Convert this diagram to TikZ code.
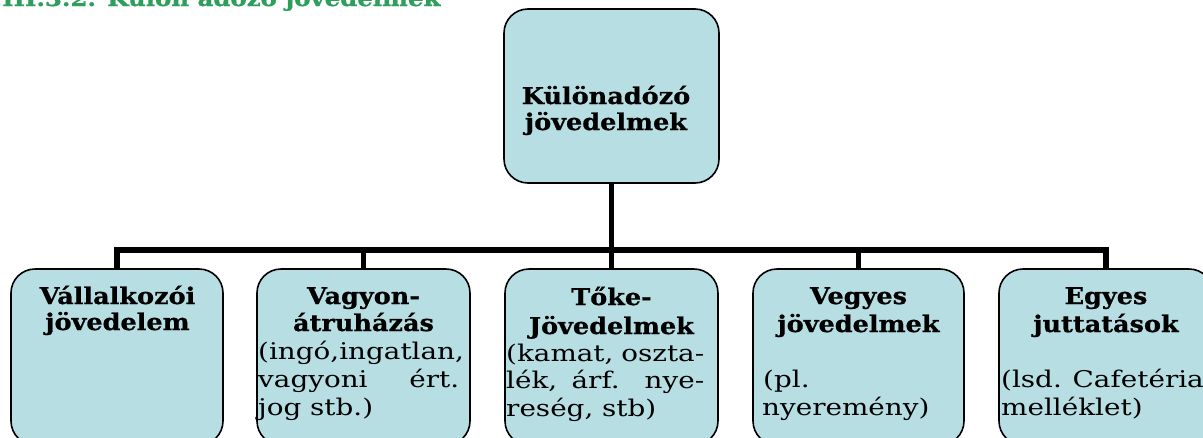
\documentclass[tikz,border=0pt]{standalone}
\usepackage{fontspec}
\setmainfont{DejaVu Serif}
\newfontfamily\ttlfont{DejaVu Serif}[FakeStretch=1.11, BoldFeatures={FakeBold=0.8}]
\newfontfamily\bodyfont{DejaVu Serif}[FakeStretch=1.21]
\definecolor{boxfill}{HTML}{B7DEE3}
\definecolor{ttlgreen}{RGB}{46,158,92}
\begin{document}
\begin{tikzpicture}[x=1pt,y=-1pt,
  box/.style={draw=black, line width=1.6pt, fill=boxfill, rounded corners=24pt, inner sep=0pt},
  conn/.style={line width=5.5pt, draw=black},
  ttl/.style={font=\ttlfont\fontsize{23}{27}\selectfont\bfseries, anchor=base, inner sep=0pt},
  bodyline/.style={font=\bodyfont\fontsize{23}{27}\selectfont, anchor=base west, inner sep=0pt},
  heading/.style={font=\ttlfont\fontsize{22}{26}\selectfont\bfseries, text=ttlgreen, anchor=base west, inner sep=0pt}]
\useasboundingbox (0,0) rectangle (1203,437);
\clip (0,0) rectangle (1203,437);

\node[heading] (head) at (2,6) {III.3.2. Külön adózó jövedelmek};

\node[box, minimum width=215pt, minimum height=174pt] (top) at (611.5,96) {};
\node[box, minimum width=212pt, minimum height=176pt] (b1) at (117,357) {};
\node[box, minimum width=213pt, minimum height=176pt] (b2) at (363.5,357) {};
\node[box, minimum width=213pt, minimum height=176pt] (b3) at (611.5,357) {};
\node[box, minimum width=211pt, minimum height=176pt] (b4) at (858.5,357) {};
\node[box, minimum width=214pt, minimum height=176pt] (b5) at (1106,357) {};

\coordinate (bar) at (611,250);
\draw[conn] (top.south) -- (top.south |- bar) -| (b1.north);
\draw[conn] (top.south) -- (top.south |- bar) -| (b2.north);
\draw[conn] (top.south) -- (b3.north);
\draw[conn] (top.south) -- (top.south |- bar) -| (b4.north);
\draw[conn] (top.south) -- (top.south |- bar) -| (b5.north);

\node[ttl] (t0a) at (606,104) {Különadózó};
\node[ttl] (t0b) at (606,130) {jövedelmek};

\node[ttl] (t1a) at (117.5,304) {Vállalkozói};
\node[ttl] (t1b) at (117.5,330) {jövedelem};

\node[ttl] (t2a) at (363.5,304) {Vagyon-};
\node[ttl] (t2b) at (363.5,331) {átruházás};
\node[bodyline] (l2a) at (258,359) {(ingó,ingatlan,};
\node[bodyline] (l2b) at (258,387) {\makebox[201pt][s]{vagyoni ért.}};
\node[bodyline] (l2c) at (258,415) {jog stb.)};

\node[ttl] (t3a) at (611.5,305) {Tőke-};
\node[ttl] (t3b) at (611.5,334) {Jövedelmek};
\node[bodyline] (l3a) at (506,361) {\makebox[198pt][s]{(kamat, oszta-}};
\node[bodyline] (l3b) at (506,388) {\makebox[198pt][s]{lék, árf. nye-}};
\node[bodyline] (l3c) at (506,416) {reség, stb)};

\node[ttl] (t4a) at (858.5,304) {Vegyes};
\node[ttl] (t4b) at (858.5,332) {jövedelmek};
\node[bodyline] (l4a) at (763,387) {(pl.};
\node[bodyline] (l4b) at (762,415) {nyeremény)};

\node[ttl] (t5a) at (1106,304) {Egyes};
\node[ttl] (t5b) at (1106,332) {juttatások};
\node[bodyline] (l5a) at (1001,387) {\makebox[199pt][s]{(lsd. Cafetéria}};
\node[bodyline] (l5b) at (1001,415) {melléklet)};
\end{tikzpicture}
\end{document}
